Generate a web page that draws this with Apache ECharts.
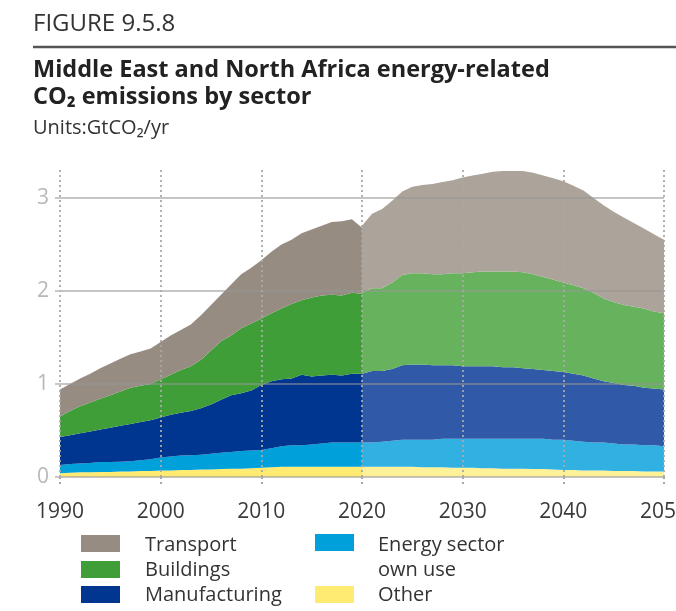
<!DOCTYPE html>
<html>
<head>
<meta charset="utf-8">
<script src="https://cdn.jsdelivr.net/npm/echarts@6/dist/echarts.min.js"></script>
<style>
html,body{margin:0;padding:0;background:#fff;}
#chart{width:676px;height:611px;}
</style>
</head>
<body>
<div id="chart"></div>
<script>
// ---- categories ----
const years = [];
for (let y = 1990; y <= 2050; y++) years.push(String(y));
const xTickLabels = ['1990','2000','2010','2020','2030','2040','2050'];
const yTickLabels = ['0','1','2','3'];

// ---- historical values 1990-2020 (GtCO2/yr) ----
const otherHist  = [0.04,0.045,0.05,0.05,0.055,0.055,0.06,0.06,0.065,0.065, 0.07,0.07,0.075,0.075,0.08,0.08,0.085,0.09,0.09,0.095, 0.10,0.105,0.11,0.11,0.11,0.11,0.11,0.11,0.11,0.11,0.11];
const energyHist = [0.09,0.095,0.095,0.10,0.105,0.105,0.105,0.11,0.115,0.125, 0.14,0.15,0.155,0.16,0.16,0.17,0.175,0.18,0.19,0.19, 0.19,0.205,0.22,0.23,0.23,0.24,0.25,0.26,0.26,0.26,0.26];
const manufHist  = [0.30,0.31,0.325,0.34,0.35,0.37,0.385,0.40,0.41,0.42, 0.43,0.45,0.46,0.475,0.50,0.53,0.57,0.61,0.62,0.645, 0.70,0.72,0.72,0.72,0.76,0.73,0.73,0.73,0.72,0.74,0.74];
const buildHist  = [0.22,0.26,0.29,0.31,0.33,0.35,0.37,0.39,0.39,0.39, 0.41,0.43,0.46,0.48,0.52,0.58,0.63,0.64,0.70,0.72, 0.71,0.73,0.76,0.80,0.80,0.85,0.86,0.86,0.86,0.87,0.86];
const transHist  = [0.29,0.29,0.30,0.31,0.33,0.34,0.35,0.36,0.37,0.38, 0.40,0.42,0.43,0.45,0.48,0.49,0.50,0.55,0.58,0.60, 0.63,0.66,0.69,0.69,0.72,0.73,0.75,0.78,0.80,0.79,0.71];

// ---- projected values 2020-2050 (GtCO2/yr) ----
const otherProj  = [0.11,0.11,0.11,0.11,0.11,0.11,0.105,0.105,0.105,0.10, 0.10,0.10,0.095,0.095,0.09,0.09,0.09,0.085,0.085,0.08, 0.075,0.075,0.07,0.07,0.07,0.065,0.065,0.065,0.06,0.06, 0.06];
const energyProj = [0.26,0.26,0.27,0.28,0.29,0.29,0.295,0.295,0.305,0.31, 0.31,0.31,0.315,0.315,0.32,0.32,0.32,0.325,0.325,0.32, 0.325,0.315,0.31,0.30,0.30,0.295,0.285,0.285,0.28,0.28, 0.27];
const manufProj  = [0.74,0.77,0.76,0.77,0.80,0.81,0.81,0.80,0.79,0.79, 0.78,0.78,0.78,0.78,0.77,0.77,0.76,0.75,0.74,0.74, 0.73,0.72,0.71,0.69,0.66,0.65,0.64,0.63,0.62,0.61, 0.61];
const buildProj  = [0.87,0.89,0.89,0.93,0.97,0.98,0.98,0.98,0.98,0.99, 1.00,1.01,1.02,1.02,1.03,1.03,1.03,1.02,1.00,0.98, 0.96,0.95,0.94,0.92,0.89,0.87,0.86,0.85,0.85,0.83, 0.82];
const transProj  = [0.72,0.80,0.85,0.88,0.90,0.93,0.95,0.97,0.99,1.00, 1.03,1.04,1.05,1.07,1.08,1.08,1.09,1.09,1.09,1.09, 1.09,1.07,1.05,1.02,1.00,0.97,0.94,0.90,0.86,0.83, 0.79];

const sectors = ['Other','Energy sector own use','Manufacturing','Buildings','Transport'];
const histValues = [otherHist, energyHist, manufHist, buildHist, transHist];
const projValues = [otherProj, energyProj, manufProj, buildProj, transProj];
const histColors = ['#ffea72','#00a0da','#003590','#3f9e37','#968c82'];
const projColors = ['#fff197','#30b1e1','#3059a8','#67b35d','#aca49a'];

const FONT = '"Open Sans", Lato, sans-serif';
const nHist = otherHist.length;
const pad = n => Array(n).fill('-');

const series = [];
sectors.forEach((name, i) => {
  series.push({
    name: name, type: 'line', stack: 'hist', symbol: 'none', smooth: false,
    lineStyle: {width: 0}, areaStyle: {color: histColors[i], opacity: 1},
    itemStyle: {color: histColors[i]},
    data: histValues[i].concat(pad(years.length - nHist)), z: 2
  });
});
sectors.forEach((name, i) => {
  series.push({
    name: name, type: 'line', stack: 'proj', symbol: 'none', smooth: false,
    lineStyle: {width: 0}, areaStyle: {color: projColors[i], opacity: 1},
    itemStyle: {color: projColors[i]},
    data: pad(years.length - projValues[i].length).concat(projValues[i]), z: 2
  });
});

// legend (drawn with graphic elements)
const legendItems = [
  {label: 'Transport', color: histColors[4], x: 81, y: 535, tx: 145, ty: 545.5},
  {label: 'Buildings', color: histColors[3], x: 81, y: 561, tx: 145, ty: 570.5},
  {label: 'Manufacturing', color: histColors[2], x: 81, y: 586, tx: 145, ty: 595.5},
  {label: 'Energy sector\nown use', color: histColors[1], x: 315, y: 534, tx: 378, ty: 545.5},
  {label: 'Other', color: histColors[0], x: 315, y: 586, tx: 378, ty: 595.5}
];
const graphics = [
  {type: 'text', x: 33, y: 24, style: {text: 'FIGURE 9.5.8', font: '24px ' + FONT, fill: '#333', textVerticalAlign: 'middle', verticalAlign: 'middle'}},
  {type: 'line', shape: {x1: 33, y1: 47, x2: 676, y2: 47}, style: {stroke: '#555', lineWidth: 2.5}},
  {type: 'text', x: 33, y: 70.5, style: {text: 'Middle East and North Africa energy-related', font: 'bold 23.5px ' + FONT, fill: '#222', textVerticalAlign: 'middle', verticalAlign: 'middle'}},
  {type: 'text', x: 33, y: 97.5, style: {text: 'CO₂ emissions by sector', font: 'bold 23.5px ' + FONT, fill: '#222', textVerticalAlign: 'middle', verticalAlign: 'middle'}},
  {type: 'text', x: 33, y: 128, style: {text: 'Units:GtCO₂/yr', font: '20px ' + FONT, fill: '#333', textVerticalAlign: 'middle', verticalAlign: 'middle'}}
];
legendItems.forEach(it => {
  graphics.push({type: 'rect', shape: {x: it.x, y: it.y, width: 39, height: 17}, style: {fill: it.color}});
  graphics.push({type: 'text', x: it.tx, y: it.ty - 12.5, style: {text: it.label, font: '20px ' + FONT, fill: '#333', lineHeight: 25, textVerticalAlign: 'top', verticalAlign: 'top'}});
});

const chart = echarts.init(document.getElementById('chart'), null, {renderer: 'canvas'});
chart.setOption({
  animation: false,
  backgroundColor: '#fff',
  grid: {left: 60, right: 12, top: 170, bottom: 134, containLabel: false, outerBoundsMode: 'none'},
  xAxis: {
    type: 'category', data: years, boundaryGap: false, z: 10,
    axisLine: {show: false},
    axisTick: {show: true, interval: 9, length: 7, lineStyle: {color: '#a8a8a8', width: 2, type: [2, 3]}},
    axisLabel: {interval: 9, margin: 25, fontSize: 21, fontFamily: FONT, color: '#3a3a3a', hideOverlap: false,
      formatter: v => xTickLabels.indexOf(v) >= 0 ? v : ''},
    splitLine: {show: true, interval: 9, lineStyle: {color: 'rgba(168,168,168,0.9)', width: 2, type: [2, 3]}}
  },
  yAxis: {
    type: 'value', min: 0, max: 3.3, interval: 1, z: 10,
    axisLine: {show: false},
    axisTick: {show: true, length: 5, lineStyle: {color: '#c8c8c8', width: 2}},
    axisLabel: {margin: 11, fontSize: 21, fontFamily: FONT, color: '#b8b8b8', showMaxLabel: false,
      formatter: v => yTickLabels.indexOf(String(v)) >= 0 ? String(v) : ''},
    splitLine: {show: true, showMaxLine: false, lineStyle: {color: 'rgba(150,150,150,0.55)', width: 2}}
  },
  series: series,
  graphic: graphics
});
</script>
</body>
</html>
